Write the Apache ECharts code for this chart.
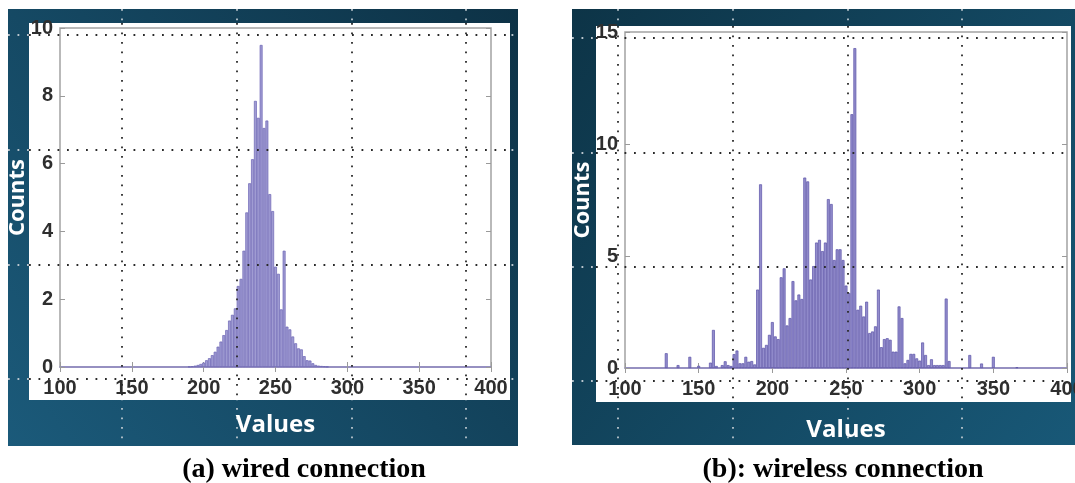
<!DOCTYPE html>
<html><head><meta charset="utf-8">
<script src="https://cdn.jsdelivr.net/npm/echarts@6/dist/echarts.min.js"></script>
<style>html,body{margin:0;padding:0;background:#fff}#c{width:1075px;height:483px}</style>
</head><body><div id="c"></div>
<script>
// ---------- data ----------
const wiredBins   = [190,192,194,196,198,200,202,204,206,208,210,212,214,216,218,220,222,224,226,228,230,232,234,236,238,240,242,244,246,248,250,252,254,256,258,260,262,264,266,268,270,272,274,276,278,280,282,284,286];
const wiredCounts = [0.01,0.02,0.04,0.06,0.09,0.13,0.2,0.26,0.35,0.45,0.6,0.75,0.94,1.09,1.37,1.54,1.73,2.39,2.6,3.43,4.56,5.42,6.13,7.85,7.35,9.5,7.05,7.27,5.1,4.6,2.96,2.75,1.7,3.43,1.19,1.11,0.9,0.7,0.55,0.52,0.32,0.2,0.19,0.11,0.06,0.04,0.03,0.02,0.01];

const wirelessBins   = [128,136,144,150,158,160,162,166,168,170,172,174,176,178,180,182,184,186,188,190,192,194,196,198,200,202,204,206,208,210,212,214,216,218,220,222,224,226,228,230,232,234,236,238,240,242,244,246,248,250,252,254,256,258,260,262,264,266,268,270,272,274,276,278,280,282,284,286,288,290,292,294,296,298,300,302,304,306,308,310,312,314,316,318,320,334,342,350,366];
const wirelessCounts = [0.66,0.13,0.5,0.1,0.24,1.7,0.09,0.13,0.3,0.13,0.09,0.62,0.78,0.21,0.21,0.5,0.28,0.31,0.16,3.5,8.2,0.9,1.03,1.48,2.05,1.41,1.29,4.05,4.45,1.9,2.23,3.88,3.02,3.28,3.08,8.5,8.33,3.95,4.55,5.6,5.72,5.22,5.6,7.54,7.32,4.82,5.3,5.3,4.82,3.68,3.35,11.33,14.28,2.6,2.78,2.3,2.96,1.56,1.63,1.86,3.5,0.93,1.29,1.33,1.26,0.73,0.73,2.75,2.23,0.21,0.36,0.63,0.63,0.43,0.33,1.14,0.58,0.13,0.39,0.13,0.13,0.13,0.13,3.1,0.31,0.58,0.2,0.5,0.03];

const xRange = [100, 400], xStep = 50;
const wiredYRange = [0, 10], wiredYStep = 2;
const wirelessYRange = [0, 15], wirelessYStep = 5;
const xTitle = 'Values', yTitle = 'Counts';
const captionA = '(a) wired connection', captionB = '(b): wireless connection';

// ---------- builders ----------
const grids = [], xAxes = [], yAxes = [], series = [];
const hidden = {show: false, type: 'value', min: 0, max: 1};
function addGrid(g, xa, ya) {
  const gi = grids.length; grids.push(Object.assign({outerBoundsMode: 'none', containLabel: false}, g));
  xAxes.push(Object.assign({gridIndex: gi}, xa));
  yAxes.push(Object.assign({gridIndex: gi}, ya));
  return gi;
}
function bg(rect, color, z) {
  addGrid(Object.assign({show: true, backgroundColor: color, borderWidth: 0, z: z}, rect), hidden, hidden);
}
function dots(rect, nx, ny, color, z) {
  const ls = {show: true, lineStyle: {color: color, width: 1.8, type: [1.8, 7.7]}};
  const ax = n => n ? {type: 'value', min: 0, max: n, interval: 1, z: z,
    axisLine: {show: false}, axisTick: {show: false}, axisLabel: {show: false}, splitLine: ls} : hidden;
  addGrid(Object.assign({show: false, z: z}, rect), ax(nx), ax(ny));
}
const tickLab = {color: '#2e2e2e', fontSize: 20, fontWeight: 'bold', fontFamily: 'Liberation Sans'};
const titleTxt = {color: '#ffffff', fontWeight: 'bold', fontFamily: 'Open Sans'};
function plot(rect, bins, counts, yr, ystep, barW, fill, edge, xGap, yGap) {
  const gi = grids.length;
  grids.push(Object.assign({outerBoundsMode: 'none', containLabel: false, show: true, borderColor: '#a2a2a2', borderWidth: 1.5, backgroundColor: 'transparent', z: 3}, rect));
  const tick = {show: true, inside: true, length: 5, lineStyle: {color: '#9a9a9a', width: 1}};
  const xi = xAxes.length;
  xAxes.push({gridIndex: gi, type: 'value', min: xRange[0], max: xRange[1], interval: xStep, position: 'bottom', z: 3,
    axisLine: {show: true, lineStyle: {color: '#8a83c4', width: 1.5}}, axisTick: tick,
    axisLabel: Object.assign({margin: 11}, tickLab), splitLine: {show: false},
    name: xTitle, nameLocation: 'middle', nameGap: xGap, nameMoveOverlap: false,
    nameTextStyle: Object.assign({fontSize: 24}, titleTxt)});
  xAxes.push({gridIndex: gi, type: 'value', min: xRange[0], max: xRange[1], interval: xStep, position: 'top', z: 3,
    axisLine: {show: false}, axisTick: tick, axisLabel: {show: false}, splitLine: {show: false}});
  const yi = yAxes.length;
  yAxes.push({gridIndex: gi, type: 'value', min: yr[0], max: yr[1], interval: ystep, position: 'left', z: 3,
    axisLine: {show: false}, axisTick: tick, axisLabel: Object.assign({margin: 7}, tickLab), splitLine: {show: false},
    name: yTitle, nameLocation: 'middle', nameGap: yGap, nameRotate: 90, nameMoveOverlap: false,
    nameTextStyle: Object.assign({fontSize: 22}, titleTxt)});
  yAxes.push({gridIndex: gi, type: 'value', min: yr[0], max: yr[1], interval: ystep, position: 'right', z: 3,
    axisLine: {show: false}, axisTick: tick, axisLabel: {show: false}, splitLine: {show: false}});
  series.push({type: 'bar', xAxisIndex: xi, yAxisIndex: yi, z: 4, silent: true,
    data: bins.map((b, k) => [b, counts[k]]), barWidth: barW,
    itemStyle: {color: fill, borderColor: edge, borderWidth: 0.7}});
}

// ---------- panel (a) ----------
bg({left: 8, top: 9, width: 510, height: 437},
   {type: 'linear', x: 0, y: 1, x2: 1, y2: 0, colorStops: [{offset: 0, color: '#1b5a7a'}, {offset: 1, color: '#0d3246'}]}, 0);
dots({left: 8, top: 35, width: 510, height: 344}, 0, 3, '#b9c5cd', 1);
dots({left: 122, top: 9, width: 344, height: 437}, 3, 0, '#b9c5cd', 1);
bg({left: 29, top: 23, width: 481, height: 377}, '#ffffff', 2);
plot({left: 60, top: 28, width: 431, height: 339}, wiredBins, wiredCounts, wiredYRange, wiredYStep,
     2.9, '#a09cd3', '#6b64b4', 46, 31);
dots({left: 29, top: 35, width: 481, height: 344}, 0, 3, '#2a2a2a', 5);
dots({left: 122, top: 23, width: 344, height: 377}, 3, 0, '#2a2a2a', 5);

// ---------- panel (b) ----------
bg({left: 572, top: 9, width: 503, height: 436},
   {type: 'linear', x: 0, y: 0, x2: 1, y2: 1, colorStops: [{offset: 0, color: '#0d3447'}, {offset: 1, color: '#185877'}]}, 0);
dots({left: 572, top: 38, width: 503, height: 343}, 0, 3, '#b9c5cd', 1);
dots({left: 618, top: 9, width: 344, height: 436}, 3, 0, '#b9c5cd', 1);
bg({left: 596, top: 26, width: 475, height: 376}, '#ffffff', 2);
plot({left: 625, top: 32, width: 442, height: 336}, wirelessBins, wirelessCounts, wirelessYRange, wirelessYStep,
     2.9, '#938dcc', '#5a52a8', 50, 31);
dots({left: 596, top: 38, width: 475, height: 343}, 0, 3, '#2a2a2a', 5);
dots({left: 618, top: 26, width: 344, height: 376}, 3, 0, '#2a2a2a', 5);

const chart = echarts.init(document.getElementById('c'), null, {renderer: 'canvas'});
chart.setOption({
  animation: false,
  backgroundColor: '#ffffff',
  title: [
    {text: captionA, left: 299, top: 451, textAlign: 'center',
     textStyle: {fontFamily: 'Liberation Serif', fontWeight: 'bold', fontSize: 28, color: '#000'}},
    {text: captionB, left: 838, top: 451, textAlign: 'center',
     textStyle: {fontFamily: 'Liberation Serif', fontWeight: 'bold', fontSize: 28, color: '#000'}}
  ],
  grid: grids, xAxis: xAxes, yAxis: yAxes, series: series
});
</script>
</body></html>
